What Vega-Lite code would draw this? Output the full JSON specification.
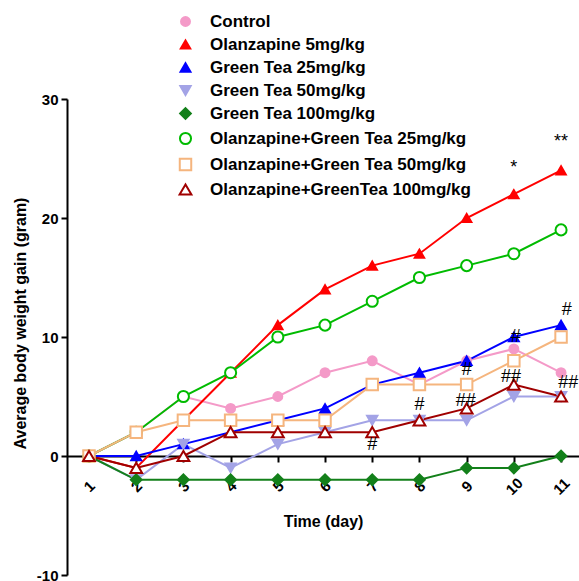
{
  "$schema": "https://vega.github.io/schema/vega-lite/v6.json",
  "width": 512,
  "height": 476,
  "autosize": {"type": "none"},
  "padding": {"left": 67, "top": 99, "right": 0, "bottom": 6},
  "background": "white",
  "config": {"view": {"stroke": null}, "font": "Liberation Sans",
    "legend": {"orient": "none", "legendX": 110, "legendY": -86, "title": null,
      "symbolSize": 64, "symbolStrokeWidth": 2, "labelFontSize": 17, "labelFontWeight": "bold", "labelColor": "black",
      "labelOffset": 16, "rowPadding": 5, "padding": 0, "labelLimit": 400}},
  "datasets": {
    "weights": [
      {"series": "Control", "day": 1, "gain": 0}, {"series": "Control", "day": 2, "gain": 2}, {"series": "Control", "day": 3, "gain": 5}, {"series": "Control", "day": 4, "gain": 4}, {"series": "Control", "day": 5, "gain": 5}, {"series": "Control", "day": 6, "gain": 7}, {"series": "Control", "day": 7, "gain": 8}, {"series": "Control", "day": 8, "gain": 6}, {"series": "Control", "day": 9, "gain": 8}, {"series": "Control", "day": 10, "gain": 9}, {"series": "Control", "day": 11, "gain": 7},
      {"series": "Olanzapine 5mg/kg", "day": 1, "gain": 0}, {"series": "Olanzapine 5mg/kg", "day": 2, "gain": -1}, {"series": "Olanzapine 5mg/kg", "day": 3, "gain": 3}, {"series": "Olanzapine 5mg/kg", "day": 4, "gain": 7}, {"series": "Olanzapine 5mg/kg", "day": 5, "gain": 11}, {"series": "Olanzapine 5mg/kg", "day": 6, "gain": 14}, {"series": "Olanzapine 5mg/kg", "day": 7, "gain": 16}, {"series": "Olanzapine 5mg/kg", "day": 8, "gain": 17}, {"series": "Olanzapine 5mg/kg", "day": 9, "gain": 20}, {"series": "Olanzapine 5mg/kg", "day": 10, "gain": 22}, {"series": "Olanzapine 5mg/kg", "day": 11, "gain": 24},
      {"series": "Green Tea 25mg/kg", "day": 1, "gain": 0}, {"series": "Green Tea 25mg/kg", "day": 2, "gain": 0}, {"series": "Green Tea 25mg/kg", "day": 3, "gain": 1}, {"series": "Green Tea 25mg/kg", "day": 4, "gain": 2}, {"series": "Green Tea 25mg/kg", "day": 5, "gain": 3}, {"series": "Green Tea 25mg/kg", "day": 6, "gain": 4}, {"series": "Green Tea 25mg/kg", "day": 7, "gain": 6}, {"series": "Green Tea 25mg/kg", "day": 8, "gain": 7}, {"series": "Green Tea 25mg/kg", "day": 9, "gain": 8}, {"series": "Green Tea 25mg/kg", "day": 10, "gain": 10}, {"series": "Green Tea 25mg/kg", "day": 11, "gain": 11},
      {"series": "Green Tea 50mg/kg", "day": 1, "gain": 0}, {"series": "Green Tea 50mg/kg", "day": 2, "gain": -2}, {"series": "Green Tea 50mg/kg", "day": 3, "gain": 1}, {"series": "Green Tea 50mg/kg", "day": 4, "gain": -1}, {"series": "Green Tea 50mg/kg", "day": 5, "gain": 1}, {"series": "Green Tea 50mg/kg", "day": 6, "gain": 2}, {"series": "Green Tea 50mg/kg", "day": 7, "gain": 3}, {"series": "Green Tea 50mg/kg", "day": 8, "gain": 3}, {"series": "Green Tea 50mg/kg", "day": 9, "gain": 3}, {"series": "Green Tea 50mg/kg", "day": 10, "gain": 5}, {"series": "Green Tea 50mg/kg", "day": 11, "gain": 5},
      {"series": "Green Tea 100mg/kg", "day": 1, "gain": 0}, {"series": "Green Tea 100mg/kg", "day": 2, "gain": -2}, {"series": "Green Tea 100mg/kg", "day": 3, "gain": -2}, {"series": "Green Tea 100mg/kg", "day": 4, "gain": -2}, {"series": "Green Tea 100mg/kg", "day": 5, "gain": -2}, {"series": "Green Tea 100mg/kg", "day": 6, "gain": -2}, {"series": "Green Tea 100mg/kg", "day": 7, "gain": -2}, {"series": "Green Tea 100mg/kg", "day": 8, "gain": -2}, {"series": "Green Tea 100mg/kg", "day": 9, "gain": -1}, {"series": "Green Tea 100mg/kg", "day": 10, "gain": -1}, {"series": "Green Tea 100mg/kg", "day": 11, "gain": 0},
      {"series": "Olanzapine+Green Tea 25mg/kg", "day": 1, "gain": 0}, {"series": "Olanzapine+Green Tea 25mg/kg", "day": 2, "gain": 2}, {"series": "Olanzapine+Green Tea 25mg/kg", "day": 3, "gain": 5}, {"series": "Olanzapine+Green Tea 25mg/kg", "day": 4, "gain": 7}, {"series": "Olanzapine+Green Tea 25mg/kg", "day": 5, "gain": 10}, {"series": "Olanzapine+Green Tea 25mg/kg", "day": 6, "gain": 11}, {"series": "Olanzapine+Green Tea 25mg/kg", "day": 7, "gain": 13}, {"series": "Olanzapine+Green Tea 25mg/kg", "day": 8, "gain": 15}, {"series": "Olanzapine+Green Tea 25mg/kg", "day": 9, "gain": 16}, {"series": "Olanzapine+Green Tea 25mg/kg", "day": 10, "gain": 17}, {"series": "Olanzapine+Green Tea 25mg/kg", "day": 11, "gain": 19},
      {"series": "Olanzapine+Green Tea 50mg/kg", "day": 1, "gain": 0}, {"series": "Olanzapine+Green Tea 50mg/kg", "day": 2, "gain": 2}, {"series": "Olanzapine+Green Tea 50mg/kg", "day": 3, "gain": 3}, {"series": "Olanzapine+Green Tea 50mg/kg", "day": 4, "gain": 3}, {"series": "Olanzapine+Green Tea 50mg/kg", "day": 5, "gain": 3}, {"series": "Olanzapine+Green Tea 50mg/kg", "day": 6, "gain": 3}, {"series": "Olanzapine+Green Tea 50mg/kg", "day": 7, "gain": 6}, {"series": "Olanzapine+Green Tea 50mg/kg", "day": 8, "gain": 6}, {"series": "Olanzapine+Green Tea 50mg/kg", "day": 9, "gain": 6}, {"series": "Olanzapine+Green Tea 50mg/kg", "day": 10, "gain": 8}, {"series": "Olanzapine+Green Tea 50mg/kg", "day": 11, "gain": 10},
      {"series": "Olanzapine+GreenTea 100mg/kg", "day": 1, "gain": 0}, {"series": "Olanzapine+GreenTea 100mg/kg", "day": 2, "gain": -1}, {"series": "Olanzapine+GreenTea 100mg/kg", "day": 3, "gain": 0}, {"series": "Olanzapine+GreenTea 100mg/kg", "day": 4, "gain": 2}, {"series": "Olanzapine+GreenTea 100mg/kg", "day": 5, "gain": 2}, {"series": "Olanzapine+GreenTea 100mg/kg", "day": 6, "gain": 2}, {"series": "Olanzapine+GreenTea 100mg/kg", "day": 7, "gain": 2}, {"series": "Olanzapine+GreenTea 100mg/kg", "day": 8, "gain": 3}, {"series": "Olanzapine+GreenTea 100mg/kg", "day": 9, "gain": 4}, {"series": "Olanzapine+GreenTea 100mg/kg", "day": 10, "gain": 6}, {"series": "Olanzapine+GreenTea 100mg/kg", "day": 11, "gain": 5}
    ],
    "marks": [
      {"day": 10, "gain": 24.2, "label": "*"},
      {"day": 11, "gain": 26.4, "label": "**"},
      {"day": 11.12, "gain": 12.3, "label": "#"},
      {"day": 10.04, "gain": 10.0, "label": "#"},
      {"day": 9.0, "gain": 7.2, "label": "#"},
      {"day": 8.98, "gain": 4.6, "label": "##"},
      {"day": 9.94, "gain": 6.6, "label": "##"},
      {"day": 11.15, "gain": 6.1, "label": "##"},
      {"day": 8.0, "gain": 4.3, "label": "#"},
      {"day": 7.0, "gain": 0.9, "label": "#"}
    ]
  },
  "layer": [
    {
      "data": {"name": "weights"},
      "mark": {"type": "line", "strokeWidth": 2},
      "encoding": {
        "x": {
          "field": "day", "type": "quantitative",
          "scale": {"domain": [0.534, 11.38], "nice": false, "zero": false},
          "axis": {
            "title": "Time (day)", "values": [1, 2, 3, 4, 5, 6, 7, 8, 9, 10, 11],
            "labelAngle": -45, "labelAlign": "center", "labelBaseline": "middle", "labelPadding": 24, "labelDx": -4,
            "labelFontSize": 15, "labelFontWeight": "bold", "labelColor": "black",
            "tickSize": 6, "tickWidth": 2, "tickColor": "black",
            "domainColor": "black", "domainWidth": 2, "grid": false,
            "offset": {"expr": "scale('y', 0) - height"},
            "titleFontSize": 16, "titleFontWeight": "bold", "titleColor": "black", "titlePadding": 16
          }
        },
        "y": {
          "field": "gain", "type": "quantitative",
          "scale": {"domain": [-10, 30], "nice": false, "zero": false},
          "axis": {
            "title": "Average body weight gain (gram)", "values": [-10, 0, 10, 20, 30],
            "labelExpr": "toString(datum.value)",
            "labelFontSize": 15, "labelFontWeight": "bold", "labelColor": "black", "labelPadding": 3,
            "tickSize": 6, "tickWidth": 2, "tickColor": "black",
            "domainColor": "black", "domainWidth": 2, "grid": false,
            "titleFontSize": 16, "titleFontWeight": "bold", "titleColor": "black",
            "titleAngle": -90, "titleX": -47, "titleY": 224, "titleAlign": "center", "titleBaseline": "middle"
          }
        },
        "stroke": {
          "field": "series", "type": "nominal",
          "scale": {
            "domain": ["Control", "Olanzapine 5mg/kg", "Green Tea 25mg/kg", "Green Tea 50mg/kg", "Green Tea 100mg/kg", "Olanzapine+Green Tea 25mg/kg", "Olanzapine+Green Tea 50mg/kg", "Olanzapine+GreenTea 100mg/kg"],
            "range": ["#F49AC8", "#FF0000", "#0000FF", "#A3A3E6", "#13801A", "#00BB00", "#F5B57E", "#A00000"]
          }
        }
      }
    },
    {
      "data": {"name": "weights"},
      "mark": {"type": "point", "filled": true, "opacity": 1, "strokeWidth": 2},
      "encoding": {
        "x": {"field": "day", "type": "quantitative"},
        "y": {"field": "gain", "type": "quantitative"},
        "size": {
          "field": "series", "type": "nominal",
          "scale": {
            "domain": ["Control", "Olanzapine 5mg/kg", "Green Tea 25mg/kg", "Green Tea 50mg/kg", "Green Tea 100mg/kg", "Olanzapine+Green Tea 25mg/kg", "Olanzapine+Green Tea 50mg/kg", "Olanzapine+GreenTea 100mg/kg"],
            "range": [80, 140, 110, 120, 50, 70, 80, 110]
          }
        },
        "stroke": {"field": "series", "type": "nominal"},
        "fill": {
          "field": "series", "type": "nominal",
          "scale": {
            "domain": ["Control", "Olanzapine 5mg/kg", "Green Tea 25mg/kg", "Green Tea 50mg/kg", "Green Tea 100mg/kg", "Olanzapine+Green Tea 25mg/kg", "Olanzapine+Green Tea 50mg/kg", "Olanzapine+GreenTea 100mg/kg"],
            "range": ["#F49AC8", "#FF0000", "#0000FF", "#A3A3E6", "#13801A", "#FFFFFF", "#FFFFFF", "#FFFFFF"]
          }
        },
        "shape": {
          "field": "series", "type": "nominal",
          "scale": {
            "domain": ["Control", "Olanzapine 5mg/kg", "Green Tea 25mg/kg", "Green Tea 50mg/kg", "Green Tea 100mg/kg", "Olanzapine+Green Tea 25mg/kg", "Olanzapine+Green Tea 50mg/kg", "Olanzapine+GreenTea 100mg/kg"],
            "range": ["circle", "triangle-up", "triangle-up", "triangle-down", "diamond", "circle", "square", "triangle-up"]
          },
          "legend": {
            "encode": {"symbols": {
              "size": {"value": 64},
              "shape": {"value": {"expr": "(datum.value === 'Control' || datum.value === 'Olanzapine+Green Tea 25mg/kg') ? 'M-2.9,0H2.9M1,0A1,1,0,1,1,-1,0A1,1,0,1,1,1,0Z' : datum.value === 'Green Tea 50mg/kg' ? 'M-2.9,-0.15H2.9M0,1.15L1.15,-0.85L-1.15,-0.85Z' : datum.value === 'Green Tea 100mg/kg' ? 'M-2.9,0H2.9M0,-0.9L0.9,0L0,0.9L-0.9,0Z' : datum.value === 'Olanzapine+Green Tea 50mg/kg' ? 'M-2.9,0H2.9M-1,-1H1V1H-1Z' : 'M-2.9,0.15H2.9M0,-1.15L1.15,0.85L-1.15,0.85Z'"}}
            }}
          }
        }
      }
    },
    {
      "data": {"name": "marks"},
      "mark": {"type": "text", "fontSize": 18, "color": "black", "baseline": "middle", "align": "center"},
      "encoding": {
        "x": {"field": "day", "type": "quantitative"},
        "y": {"field": "gain", "type": "quantitative"},
        "text": {"field": "label", "type": "nominal"}
      }
    }
  ]
}
